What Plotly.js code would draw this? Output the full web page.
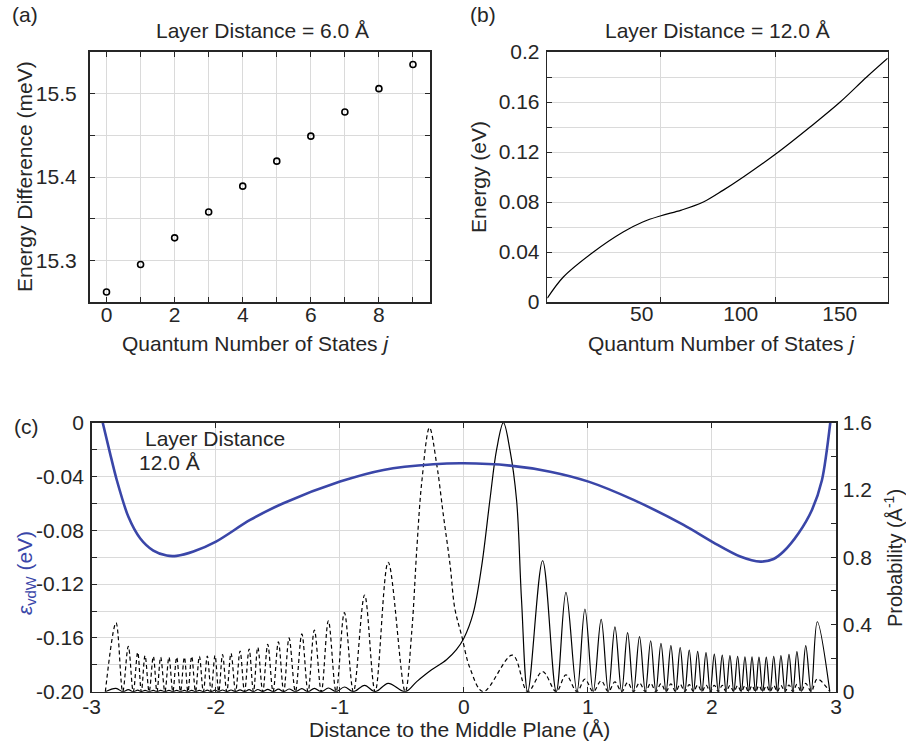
<!DOCTYPE html>
<html>
<head>
<meta charset="utf-8">
<script src="https://cdn.plot.ly/plotly-3.0.1.min.js"></script>
<style>html,body{margin:0;padding:0;background:#fff}#chart{width:906px;height:742px}</style>
</head>
<body>
<div id="chart"></div>
<script>
// ---------- Panel (a): energy difference vs quantum number ----------
const jA = [0, 1, 2, 3, 4, 5, 6, 7, 8, 9];
const dEA = [15.262, 15.295, 15.327, 15.358, 15.389, 15.419, 15.449, 15.478, 15.506, 15.535];
const tickA_x = [0, 2, 4, 6, 8];
const tickA_y = [15.3, 15.4, 15.5];
const tickA_yText = ['15.3', '15.4', '15.5'];

// ---------- Panel (b): energy vs quantum number ----------
const jB = [2.3, 10.4, 25.6, 40.6, 50.5, 59.7, 70, 81.1, 91, 101.3, 119, 135, 150.2, 163.6, 174.2];
const eB = [0.003, 0.02, 0.04, 0.056, 0.064, 0.069, 0.0735, 0.08, 0.0893, 0.10, 0.12, 0.14, 0.16, 0.18, 0.195];
const tickB_x = [50, 100, 150];
const gridB_x = [59.7, 117.6];
const tickB_y = [0, 0.04, 0.08, 0.12, 0.16, 0.2];
const tickB_yText = ['0', '0.04', '0.08', '0.12', '0.16', '0.2'];

// ---------- Panel (c): vdW potential and probability densities ----------
const zPot = [-2.911, -2.852, -2.798, -2.705, -2.61, -2.503, -2.395, -2.315, -2.18, -1.998, -1.723, -1.455, -0.998, -0.648, -0.245, 0, 0.373, 0.696, 1.005, 1.368, 1.771, 2.013, 2.228, 2.39, 2.497, 2.577, 2.698, 2.806, 2.887, 2.954];
const ePot = [0, -0.0228, -0.0426, -0.0698, -0.0859, -0.0951, -0.0988, -0.099, -0.0958, -0.0884, -0.0723, -0.0599, -0.0438, -0.0351, -0.0309, -0.0302, -0.0319, -0.0364, -0.0438, -0.0574, -0.076, -0.0891, -0.0995, -0.1033, -0.1013, -0.0958, -0.0822, -0.0649, -0.0426, 0];

// left side: node preceding each peak, peak positions, heights
const leftNodes = [-2.89, -2.75, -2.665, -2.60, -2.537, -2.474, -2.41, -2.346, -2.284, -2.224, -2.163, -2.10, -2.037, -1.976, -1.911, -1.84, -1.768, -1.696, -1.621, -1.538, -1.452, -1.358, -1.256, -1.149, -1.03, -0.89, -0.715];
const leftPeaks = [-2.804, -2.705, -2.629, -2.57, -2.503, -2.444, -2.377, -2.315, -2.253, -2.194, -2.132, -2.068, -2.006, -1.945, -1.877, -1.804, -1.731, -1.661, -1.581, -1.495, -1.409, -1.306, -1.205, -1.092, -0.963, -0.80, -0.61];
const dashLeftH = [0.41, 0.27, 0.235, 0.215, 0.21, 0.205, 0.205, 0.205, 0.205, 0.21, 0.21, 0.212, 0.215, 0.22, 0.228, 0.242, 0.254, 0.264, 0.282, 0.296, 0.32, 0.344, 0.367, 0.422, 0.47, 0.575, 0.77];
const solidLeftH = [0.02, 0.012, 0.009, 0.008, 0.008, 0.008, 0.008, 0.008, 0.008, 0.008, 0.008, 0.009, 0.009, 0.01, 0.01, 0.011, 0.012, 0.013, 0.014, 0.015, 0.016, 0.018, 0.02, 0.022, 0.028, 0.038, 0.05];

// central region
const centerSolidX = [-0.473, -0.38, -0.26, -0.14, -0.06, 0.0, 0.075, 0.143, 0.21, 0.264, 0.319, 0.371, 0.425, 0.465, 0.515];
const centerSolidY = [0, 0.06, 0.13, 0.19, 0.25, 0.318, 0.466, 0.744, 1.14, 1.44, 1.6, 1.44, 1.14, 0.545, 0];
const centerDashX = [-0.473, -0.42, -0.379, -0.339, -0.277, -0.218, -0.165, -0.111, -0.073, -0.019, 0.05, 0.156, 0.392, 0.515];
const centerDashY = [0, 0.357, 0.853, 1.249, 1.57, 1.348, 1.05, 0.754, 0.496, 0.337, 0.139, 0, 0.218, 0];

// right side: peak positions, node following each peak, heights
const rightPeaks = [0.635, 0.823, 0.976, 1.107, 1.218, 1.32, 1.416, 1.506, 1.589, 1.669, 1.744, 1.817, 1.885, 1.952, 2.019, 2.083, 2.145, 2.207, 2.266, 2.323, 2.379, 2.438, 2.498, 2.556, 2.621, 2.685, 2.756, 2.849];
const rightNodes = [0.745, 0.912, 1.043, 1.165, 1.272, 1.368, 1.463, 1.548, 1.63, 1.707, 1.781, 1.851, 1.919, 1.986, 2.051, 2.114, 2.176, 2.237, 2.295, 2.351, 2.409, 2.468, 2.527, 2.589, 2.653, 2.72, 2.80, 2.95];
const solidRightH = [0.779, 0.591, 0.492, 0.43, 0.385, 0.351, 0.327, 0.303, 0.288, 0.274, 0.262, 0.248, 0.24, 0.232, 0.224, 0.218, 0.214, 0.211, 0.208, 0.208, 0.206, 0.206, 0.211, 0.214, 0.222, 0.238, 0.274, 0.416];
const dashRightH = [0.12, 0.10, 0.075, 0.065, 0.058, 0.055, 0.052, 0.05, 0.048, 0.046, 0.044, 0.042, 0.04, 0.04, 0.038, 0.038, 0.037, 0.036, 0.036, 0.036, 0.036, 0.036, 0.037, 0.038, 0.04, 0.043, 0.05, 0.075];

const tickC_x = [-3, -2, -1, 0, 1, 2, 3];
const tickC_xText = ['-3', '-2', '-1', '0', '1', '2', '3'];
const tickC_yL = [-0.2, -0.16, -0.12, -0.08, -0.04, 0];
const tickC_yLText = ['-0.20', '-0.16', '-0.12', '-0.08', '-0.04', '0'];
const tickC_yR = [0, 0.4, 0.8, 1.2, 1.6];
const tickC_yRText = ['0', '0.4', '0.8', '1.2', '1.6'];

// ---------- build wave traces from the read nodes/peaks ----------
function buildWave(hLeft, cx, cy, hRight) {
  const x = [], y = [];
  for (let i = 0; i < leftPeaks.length; i++) {
    x.push(leftNodes[i]); y.push(0);
    x.push(leftPeaks[i]); y.push(hLeft[i]);
  }
  for (let i = 0; i < cx.length; i++) { x.push(cx[i]); y.push(cy[i]); }
  for (let i = 0; i < rightPeaks.length; i++) {
    x.push(rightPeaks[i]); y.push(hRight[i]);
    x.push(rightNodes[i]); y.push(0);
  }
  return {x, y};
}
const solidWave = buildWave(solidLeftH, centerSolidX, centerSolidY, solidRightH);
const dashWave = buildWave(dashLeftH, centerDashX, centerDashY, dashRightH);

// ---------- styling ----------
const W = 906, H = 742;
const FONT = 'Liberation Sans, Arial, Helvetica, sans-serif';
const TXT = '#262626';
const GRID = '#dadada';
const BLUE = 'rgb(58,70,168)';
const dx = (a, b) => [a / W, b / W];
const dy = (top, bottom) => [1 - bottom / H, 1 - top / H];

function ax(extra) {
  return Object.assign({
    showline: true, linecolor: TXT, linewidth: 1.6, mirror: 'ticks',
    ticks: 'inside', ticklen: 5, tickwidth: 1, tickcolor: TXT,
    showgrid: true, gridcolor: GRID, gridwidth: 1, zeroline: false,
    tickfont: {family: FONT, size: 21, color: TXT}, fixedrange: true
  }, extra);
}
const minorStyle = (dt, t0, grid) => ({dtick: dt, tick0: t0, ticks: 'inside', ticklen: 5, tickwidth: 1, tickcolor: TXT, showgrid: grid, gridcolor: GRID, gridwidth: 1});

const traces = [
  {x: jA, y: dEA, xaxis: 'x', yaxis: 'y', mode: 'markers', type: 'scatter',
   marker: {symbol: 'circle-open', size: 6, color: '#000', line: {width: 1.6, color: '#000'}}, hoverinfo: 'skip'},
  {x: jB, y: eB, xaxis: 'x2', yaxis: 'y2', mode: 'lines', type: 'scatter',
   line: {color: '#000', width: 1.2, shape: 'spline', smoothing: 1}, hoverinfo: 'skip'},
  {x: [], y: [], xaxis: 'x5', yaxis: 'y2', mode: 'lines', type: 'scatter', hoverinfo: 'skip'},
  {x: solidWave.x, y: solidWave.y, xaxis: 'x3', yaxis: 'y3', mode: 'lines', type: 'scatter',
   line: {color: '#000', width: 1.2, shape: 'spline', smoothing: 1}, hoverinfo: 'skip'},
  {x: dashWave.x, y: dashWave.y, xaxis: 'x3', yaxis: 'y3', mode: 'lines', type: 'scatter',
   line: {color: '#000', width: 1.2, shape: 'spline', smoothing: 1, dash: '4px,3px'}, hoverinfo: 'skip'},
  {x: zPot, y: ePot, xaxis: 'x3', yaxis: 'y4', mode: 'lines', type: 'scatter',
   line: {color: BLUE, width: 2.6, shape: 'spline', smoothing: 0.8}, hoverinfo: 'skip'}
];

function ann(text, px, py, o) {
  return Object.assign({text, x: px / W, y: 1 - py / H, xref: 'paper', yref: 'paper', showarrow: false,
    xanchor: 'center', yanchor: 'middle', font: {family: FONT, size: 21, color: TXT}}, o || {});
}

const layout = {
  width: W, height: H, margin: {l: 0, r: 0, t: 0, b: 0},
  paper_bgcolor: '#fff', plot_bgcolor: '#fff', showlegend: false,
  xaxis: ax({domain: dx(89.5, 430), anchor: 'y', range: [-0.5, 9.5], tickvals: tickA_x, ticktext: tickA_x.map(String),
    ticklabelstandoff: -7, minor: minorStyle(1, 0, true)}),
  yaxis: ax({domain: dy(52, 302), anchor: 'x', range: [15.25, 15.55], tickvals: tickA_y, ticktext: tickA_yText,
    ticklabelstandoff: 7, minor: minorStyle(0.05, 15.25, true)}),
  xaxis2: ax({domain: dx(547.3, 887.7), anchor: 'y2', range: [2.3, 174.2], tickvals: tickB_x, ticktext: tickB_x.map(String),
    ticklabelstandoff: -8, ticks: '', showgrid: false, mirror: true}),
  xaxis5: ax({overlaying: 'x2', anchor: 'y2', range: [2.3, 174.2], tickvals: gridB_x, showticklabels: false, showline: false}),
  yaxis2: ax({domain: dy(52, 302), anchor: 'x2', range: [0, 0.2], tickvals: tickB_y, ticktext: tickB_yText,
    ticklabelstandoff: 2, minor: minorStyle(0.02, 0, true)}),
  xaxis3: ax({domain: dx(91.7, 836), anchor: 'y3', range: [-3, 3], tickvals: tickC_x, ticktext: tickC_xText,
    ticklabelstandoff: -5}),
  yaxis3: ax({domain: dy(422.7, 691.7), anchor: 'x3', side: 'right', range: [0, 1.6], tickvals: tickC_yR, ticktext: tickC_yRText,
    ticklabelstandoff: 1, showgrid: false, mirror: false, minor: minorStyle(0.2, 0, false)}),
  yaxis4: ax({overlaying: 'y3', anchor: 'x3', side: 'left', range: [-0.2, 0], tickvals: tickC_yL, ticktext: tickC_yLText,
    ticklabelstandoff: 2, mirror: false, minor: minorStyle(0.02, -0.2, true)}),
  annotations: [
    ann('(a)', 10, 15, {xanchor: 'left'}),
    ann('(b)', 468, 15, {xanchor: 'left'}),
    ann('(c)', 12, 426, {xanchor: 'left'}),
    ann('Layer Distance = 6.0 Å', 262, 30),
    ann('Layer Distance = 12.0 Å', 717.5, 30),
    ann('Energy Difference (meV)', 24, 177, {textangle: -90}),
    ann('Quantum Number of States <i>j</i>', 255, 343),
    ann('Energy (eV)', 478, 177, {textangle: -90}),
    ann('Quantum Number of States <i>j</i>', 721, 343),
    ann('Distance to the Middle Plane (Å)', 459, 729),
    ann('<i>ε</i><sub>vdW</sub> (eV)', 26, 573, {textangle: -90, font: {family: FONT, size: 21, color: BLUE}}),
    ann('Probability (Å<sup>-1</sup>)', 893, 558, {textangle: -90, font: {family: FONT, size: 20, color: TXT}}),
    ann('Layer Distance', 143, 438, {xanchor: 'left'}),
    ann('12.0 Å', 137, 462, {xanchor: 'left'})
  ]
};

Plotly.newPlot('chart', traces, layout, {displayModeBar: false, staticPlot: true});
</script>
</body>
</html>
